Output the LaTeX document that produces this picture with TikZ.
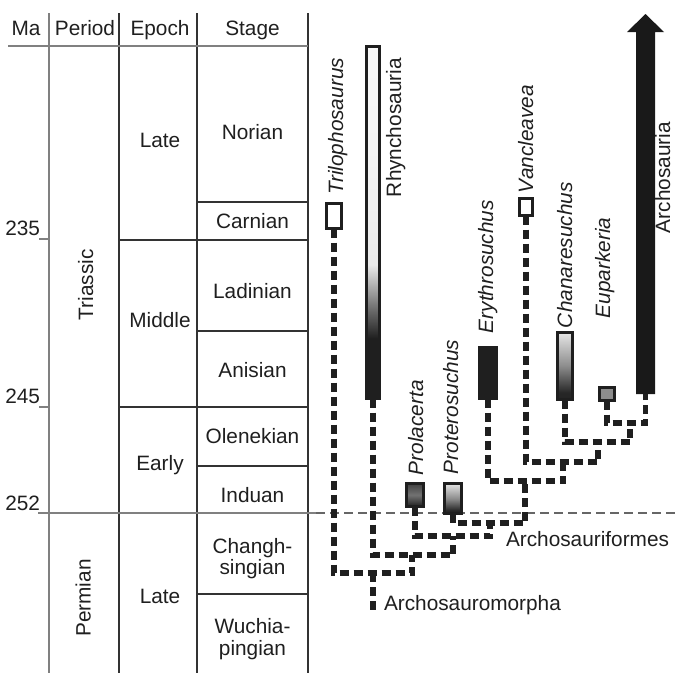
\documentclass[tikz,border=0pt]{standalone}
\usepackage{fontspec}
\setmainfont{Liberation Sans}
\usetikzlibrary{calc}
\pgfdeclareverticalshading{rhynshade}{100bp}{color(0bp)=(black!88); color(33.5bp)=(black!88); color(38bp)=(black!55); color(44bp)=(black!8); color(60bp)=(black!4); color(100bp)=(white)}
\pgfdeclareverticalshading{lightdark}{100bp}{color(0bp)=(black!88); color(30bp)=(black!85); color(50bp)=(black!45); color(75bp)=(black!10); color(100bp)=(black!10)}
\pgfdeclareverticalshading{midgray}{100bp}{color(0bp)=(black!88); color(25bp)=(black!88); color(50bp)=(black!55); color(75bp)=(black!75); color(100bp)=(black!75)}
\tikzset{
  every node/.style={font=\fontsize{20.8}{21.5}\selectfont, text=black!88, inner sep=0pt, outer sep=0pt},
  gridgray/.style={draw=black!50, line width=1.8pt},
  griddark/.style={draw=black!80, line width=1.2pt},
  taxbox/.style={draw=black!88, line width=3pt, rectangle, minimum width=#1},
  taxbox/.default=15pt,
  tree/.style={draw=black!88, line width=5.5pt, dash pattern=on 9pt off 5pt},
  vlab/.style={rotate=90, anchor=base west},
  ilab/.style={rotate=90, anchor=base west, font=\fontsize{20.8}{21.5}\selectfont\itshape},
}
\begin{document}
\begin{tikzpicture}[x=1pt,y=-1pt]
\useasboundingbox (0,0) rectangle (675,673);
% ---- table grid ----
\draw[gridgray] (49,13) -- (49,673);
\draw[griddark] (119,13) -- (119,673);
\draw[griddark] (197,13) -- (197,673);
\draw[griddark] (308,13) -- (308,673);
\draw[gridgray] (8,46) -- (308,46);
\draw[gridgray] (39,239) -- (49,239);
\draw[gridgray] (39,407) -- (49,407);
\draw[griddark] (197,202) -- (308,202);
\draw[griddark] (119,240) -- (308,240);
\draw[griddark] (197,331) -- (308,331);
\draw[griddark] (119,407) -- (308,407);
\draw[griddark] (197,466) -- (308,466);
\draw[griddark] (197,594) -- (308,594);
\draw[gridgray] (38,513) -- (316,513);
\draw[draw=black!60, line width=1.3pt, dash pattern=on 9pt off 5pt] (316,513) -- (675,513);
% ---- headers ----
\node[anchor=base] (hma) at (26,35) {Ma};
\node[anchor=base] (hper) at (85,35) {Period};
\node[anchor=base] (hep) at (160,35) {Epoch};
\node[anchor=base] (hst) at (252.5,35) {Stage};
% ---- Ma ----
\node[anchor=base east] (m235) at (40,235) {235};
\node[anchor=base east] (m245) at (40,403) {245};
\node[anchor=base east] (m252) at (40,510) {252};
% ---- periods ----
\node[rotate=90, anchor=base] (ptri) at (93,285) {Triassic};
\node[rotate=90, anchor=base] (pperm) at (90.5,598) {Permian};
% ---- epochs ----
\node[anchor=base] (elate) at (160,147) {Late};
\node[anchor=base] (emid) at (160,327) {Middle};
\node[anchor=base] (eearly) at (160,470) {Early};
\node[anchor=base] (eplate) at (160,603) {Late};
% ---- stages ----
\node[anchor=base] (snor) at (252.5,139) {Norian};
\node[anchor=base] (scar) at (252.5,228) {Carnian};
\node[anchor=base] (slad) at (252.5,298) {Ladinian};
\node[anchor=base] (sani) at (252.5,377) {Anisian};
\node[anchor=base] (sole) at (252.5,443) {Olenekian};
\node[anchor=base] (sind) at (252.5,502) {Induan};
\node[anchor=base] (schA) at (252.5,553) {Changh-};
\node[anchor=base] (schB) at (252.5,574.5) {singian};
\node[anchor=base] (swuA) at (252.5,633) {Wuchia-};
\node[anchor=base] (swuB) at (252.5,655) {pingian};
% ---- taxa ----
\node[taxbox=15pt, minimum height=25pt, fill=white] (tril) at (334,216) {};
\node[taxbox=13pt, minimum height=352pt, shading=rhynshade] (rhyn) at (373,222.5) {};
\node[taxbox=17pt, minimum height=23pt, shading=midgray] (prol) at (415,495) {};
\node[taxbox=17pt, minimum height=30pt, shading=lightdark] (prot) at (453,498.5) {};
\node[taxbox=17pt, minimum height=51pt, fill=black!88] (ery) at (488,373) {};
\node[taxbox=13pt, minimum height=17pt, fill=white] (van) at (526,207) {};
\node[taxbox=15pt, minimum height=67pt, shading=lightdark] (chan) at (565,366) {};
\node[taxbox=15pt, minimum height=13pt, fill=black!45] (eup) at (607,394) {};
\fill[black!90] (636,394) -- (636,32) -- (627,32) -- (645.5,14) -- (664,32) -- (655,32) -- (655,394) -- cycle;
\coordinate (arch) at (645.5,394);
% ---- labels ----
\node[ilab] (ltril) at (343,194) {Trilophosaurus};
\node[vlab] (lrhyn) at (401,197) {Rhynchosauria};
\node[ilab] (lprol) at (423,475) {Prolacerta};
\node[ilab] (lprot) at (458,474) {Proterosuchus};
\node[ilab] (lery) at (493,333) {Erythrosuchus};
\node[ilab] (lvan) at (533,193) {Vancleavea};
\node[ilab] (lchan) at (572,328) {Chanaresuchus};
\node[ilab] (leup) at (610,318) {Euparkeria};
\node[vlab] (larch) at (670,233) {Archosauria};
% ---- tree ----
\coordinate (j8) at (630,423);
\coordinate (j7) at (598,442);
\coordinate (j6) at (563,462);
\coordinate (j5) at (525,481);
\coordinate (j4) at (490,523);
\coordinate (j3) at (453,536);
\coordinate (j2) at (412,555);
\coordinate (j1) at (373,573);
\coordinate (root) at (373,612);
\draw[tree] (eup.south) |- (j8) -| (arch);
\draw[tree] (chan.south) |- (j7) -| (j8);
\draw[tree] (van.south) |- (j6) -| (j7);
\draw[tree] (ery.south) |- (j5) -| (j6);
\draw[tree] (prot.south) |- (j4) -| (j5);
\draw[tree] (prol.south) |- (j3) -| (j4);
\draw[tree] (rhyn.south) |- (j2) -| (j3);
\draw[tree] (tril.south) |- (j1) -| (j2);
\draw[tree] (j1) -- (root);
\node[anchor=base west] (lamorph) at (384,610) {Archosauromorpha};
\node[anchor=base west] (laform) at (506,546) {Archosauriformes};
\end{tikzpicture}
\end{document}
